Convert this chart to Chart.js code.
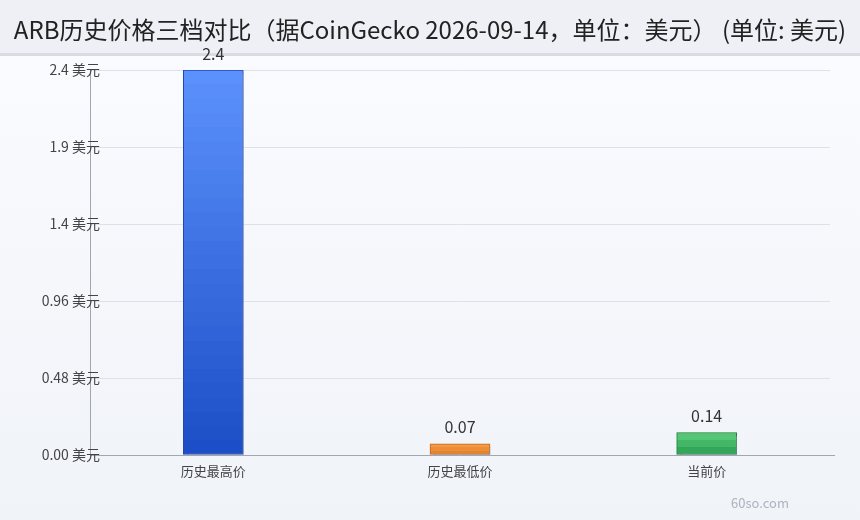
<!DOCTYPE html>
<html>
<head>
<meta charset="utf-8">
<script src="https://cdn.jsdelivr.net/npm/chart.js@4.4.1/dist/chart.umd.min.js"></script>
<style>
  html, body { margin: 0; padding: 0; background: #f3f5fa; }
  #wrap { width: 860px; height: 520px; }
</style>
</head>
<body>
<div id="wrap"><canvas id="priceChart" width="860" height="520"></canvas></div>
<script>
const chartTitle = "ARB历史价格三档对比（据CoinGecko 2026-09-14，单位：美元） (单位: 美元)";
const categories = ["历史最高价", "历史最低价", "当前价"];
const prices = [2.4, 0.07, 0.14];
const valueLabels = ["2.4", "0.07", "0.14"];
const tickValues = [0, 0.48, 0.96, 1.44, 1.92, 2.4];
const tickLabels = ["0.00 美元", "0.48 美元", "0.96 美元", "1.4 美元", "1.9 美元", "2.4 美元"];

const FONT = "'Noto Sans CJK SC', 'Noto Sans', sans-serif";

// top / bottom colours of each bar, plus border
const barColors = [
  { top: "#5b91fc", bottom: "#1a4cc5", border: "#2247b5" },
  { top: "#f29a45", bottom: "#e0771e", border: "#c4651a" },
  { top: "#55c676", bottom: "#22984a", border: "#1c7f3a" }
];

// stepped vertical gradient so the bars get the faint banding
function bandedGradient(ctx, top, bottom, c) {
  const g = ctx.createLinearGradient(0, top, 0, bottom);
  const h = bottom - top;
  const bands = Math.max(3, Math.round(h / 14));
  const mix = (a, b, t) => {
    const pa = [1, 3, 5].map(i => parseInt(a.substr(i, 2), 16));
    const pb = [1, 3, 5].map(i => parseInt(b.substr(i, 2), 16));
    return "rgb(" + pa.map((v, i) => Math.round(v + (pb[i] - v) * t)).join(",") + ")";
  };
  for (let i = 0; i < bands; i++) {
    const col = mix(c.top, c.bottom, i / bands);
    g.addColorStop(i / bands, col);
    g.addColorStop((i + 1) / bands - 0.0001, col);
  }
  return g;
}

const backdrop = {
  id: "backdrop",
  beforeDraw(chart) {
    const { ctx, width, height } = chart;
    ctx.save();
    const bg = ctx.createLinearGradient(0, 54, 0, height);
    bg.addColorStop(0, "#fafbfe");
    bg.addColorStop(1, "#f0f3f8");
    ctx.fillStyle = bg;
    ctx.fillRect(0, 0, width, height);
    ctx.fillStyle = "#eef0f5";
    ctx.fillRect(0, 0, width, 53);
    ctx.fillStyle = "#d9dce4";
    ctx.fillRect(0, 53, width, 3);

    ctx.font = "24px " + FONT;
    ctx.fillStyle = "#222";
    ctx.textAlign = "center";
    ctx.textBaseline = "middle";
    ctx.fillText(chartTitle, width / 2, 30);
    ctx.restore();
  },
  beforeDatasetsDraw(chart) {
    const { ctx } = chart;
    chart.getDatasetMeta(0).data.forEach((bar, i) => {
      bar.options.backgroundColor = bandedGradient(ctx, bar.y, bar.base, barColors[i]);
    });
    ctx.save();
    ctx.shadowColor = "rgba(140,148,165,0.55)";
    ctx.shadowOffsetX = 4;
    ctx.shadowOffsetY = 3;
    ctx.shadowBlur = 0;
  },
  afterDatasetsDraw(chart) {
    const { ctx } = chart;
    ctx.restore();
    ctx.save();
    // x axis runs a little past the last grid line
    const xs = chart.scales.x, ys = chart.scales.y;
    ctx.strokeStyle = "#a2a6b2";
    ctx.lineWidth = 1;
    ctx.beginPath();
    ctx.moveTo(xs.right, ys.bottom + 0.5);
    ctx.lineTo(xs.right + 5, ys.bottom + 0.5);
    ctx.stroke();

    ctx.font = "16px " + FONT;
    ctx.fillStyle = "#333";
    ctx.textAlign = "center";
    ctx.textBaseline = "middle";
    chart.getDatasetMeta(0).data.forEach((bar, i) => {
      ctx.fillText(valueLabels[i], bar.x, bar.y - 16.5);
    });

    // y tick labels, overlapping the axis line like the original
    ctx.font = "14px " + FONT;
    ctx.fillStyle = "#444";
    ctx.textAlign = "right";
    tickValues.forEach((v, i) => {
      ctx.fillText(tickLabels[i], ys.right + 10, ys.getPixelForValue(v));
    });

    ctx.textAlign = "center";
    ctx.font = "13px " + FONT;
    ctx.fillStyle = "#adb2bf";
    ctx.fillText("60so.com", 760, 503);
    ctx.restore();
  }
};

new Chart(document.getElementById("priceChart"), {
  type: "bar",
  data: {
    labels: categories,
    datasets: [{
      data: prices,
      backgroundColor: barColors.map(c => c.top),
      borderColor: barColors.map(c => c.border),
      borderWidth: 1,
      borderSkipped: false,
      barThickness: 60
    }]
  },
  options: {
    responsive: false,
    animation: false,
    layout: { padding: { left: 0, right: 30, bottom: 35, top: 70 } },
    plugins: {
      legend: { display: false },
      tooltip: { enabled: false },
      title: { display: false }
    },
    scales: {
      x: {
        grid: { display: false, drawTicks: false },
        border: { color: "#a2a6b2", width: 1 },
        ticks: { color: "#444", font: { family: FONT, size: 13 }, padding: 8 },
        afterFit(scale) { scale.height = 30; }
      },
      y: {
        min: 0,
        max: 2.4,
        afterBuildTicks(scale) { scale.ticks = tickValues.map(v => ({ value: v })); },
        afterFit(scale) { scale.width = 90; },
        grid: { color: "#dde1ea", drawTicks: false },
        border: { color: "#a2a6b2", width: 1 },
        ticks: { display: false }
      }
    }
  },
  plugins: [backdrop]
});
</script>
</body>
</html>
